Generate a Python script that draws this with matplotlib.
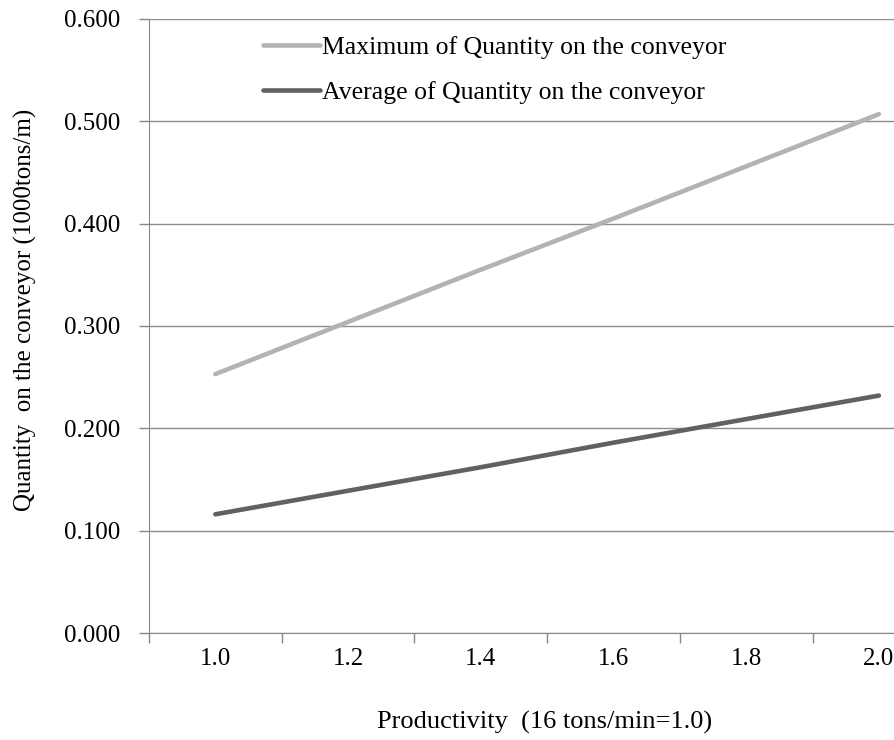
import matplotlib.pyplot as plt
import numpy as np

plt.rcParams['font.family'] = ['Liberation Serif', 'DejaVu Serif']

# category labels on the x axis (productivity, 16 tons/min = 1.0)
productivity = ['1.0', '1.2', '1.4', '1.6', '1.8', '2.0']

# quantity on the conveyor (1000 tons/m)
max_quantity = [0.253, 0.304, 0.355, 0.405, 0.456, 0.507]
avg_quantity = [0.116, 0.139, 0.162, 0.186, 0.209, 0.232]

fig = plt.figure(figsize=(8.95, 7.4), dpi=100)
ax = fig.add_axes([149 / 895, 1 - 633 / 740, 1 - 149 / 895, (633 - 19) / 740])

x = np.arange(len(productivity))
ax.plot(x, max_quantity, color='#b3b3b3', lw=3.3, solid_capstyle='round',
        label='Maximum of Quantity on the conveyor', zorder=3)
ax.plot(x, avg_quantity, color='#616161', lw=3.3, solid_capstyle='round',
        label='Average of Quantity on the conveyor', zorder=3)

# category axis, tick marks sit between categories
ax.set_xticks(x)
ax.set_xticklabels(productivity)
ax.set_xticks(np.arange(-0.5, len(productivity), 1.0), minor=True)
ax.tick_params(axis='x', which='major', length=0, pad=11, labelsize=18)
ax.tick_params(axis='x', which='minor', length=7, color='#888888', width=1)
ax.set_yticks(np.arange(0, 0.61, 0.1))
ax.set_yticklabels(['%.3f' % v for v in np.arange(0, 0.61, 0.1)])
ax.tick_params(axis='y', length=7, color='#888888', width=1, pad=14, labelsize=18)
# chart area is wider than the picture, the right part is cut off
ax.set_xlim(-0.5, -0.5 + (895 - 149) / 132.7)
ax.set_ylim(0, 0.6)

ax.grid(axis='y', color='#8c8c8c', lw=1)
ax.set_axisbelow(True)
for side in ['top', 'right']:
    ax.spines[side].set_visible(False)
ax.spines['left'].set_color('#888888')
ax.spines['bottom'].set_color('#888888')

ax.set_xlabel('Productivity  (16 tons/min=1.0)', fontsize=19)
ax.set_ylabel('Quantity  on the conveyor (1000tons/m)', fontsize=18)
ax.xaxis.set_label_coords((545 - 149) / 746, -(722 - 633) / 614, transform=ax.transAxes)
ax.yaxis.set_label_coords(-(149 - 25) / 746, (633 - 310) / 614, transform=ax.transAxes)
ax.xaxis.label.set_va('center')
ax.yaxis.label.set_va('center')

fig.legend(loc='upper left', bbox_to_anchor=(263 / 895, 1 - 36 / 740),
           frameon=False, fontsize=18.5, handlelength=2.2, handletextpad=0.1,
           borderpad=0, borderaxespad=0, labelspacing=0.85)

fig.savefig('out.png', dpi=100)
